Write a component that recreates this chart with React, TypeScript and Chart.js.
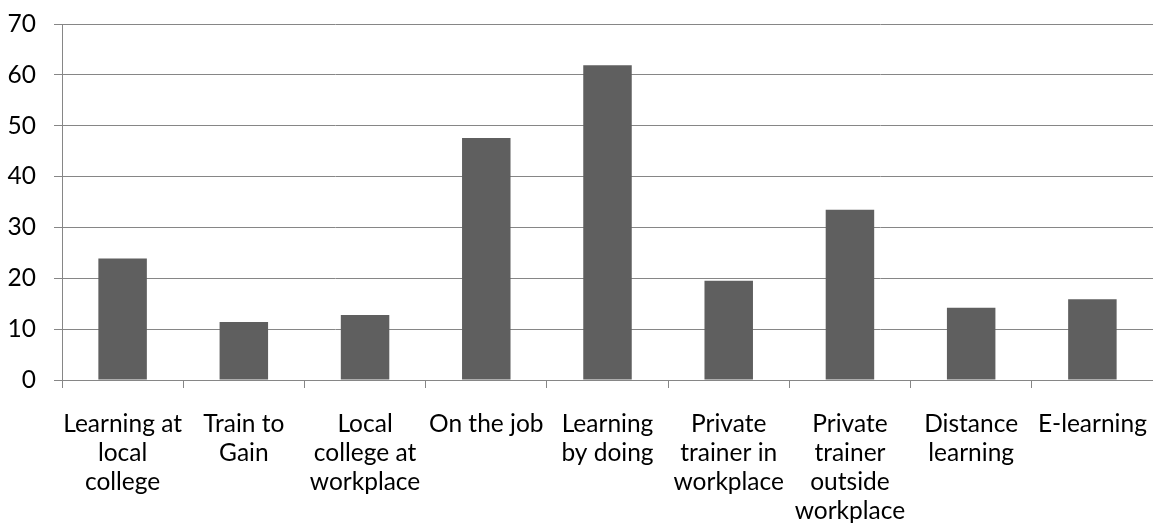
import React, { useEffect, useRef } from "react";
import { Chart, registerables } from "chart.js";

Chart.register(...registerables);

const categories: string[][] = [
  ["Learning at", "local", "college"],
  ["Train to", "Gain"],
  ["Local", "college at", "workplace"],
  ["On the job"],
  ["Learning", "by doing"],
  ["Private", "trainer in", "workplace"],
  ["Private", "trainer", "outside", "workplace"],
  ["Distance", "learning"],
  ["E-learning"],
];

const values: number[] = [23.9, 11.4, 12.8, 47.6, 61.9, 19.5, 33.5, 14.2, 15.9];

const yTicks = { min: 0, max: 70, step: 10 };

export default function App() {
  const ref = useRef<HTMLCanvasElement | null>(null);
  useEffect(() => {
    if (!ref.current) return;
    const font = { family: "Lato", size: 24.5, lineHeight: 29 / 24.5 };
    const chart = new Chart(ref.current, {
      type: "bar",
      data: {
        labels: categories,
        datasets: [
          {
            data: values,
            backgroundColor: "#5f5f5f",
            borderWidth: 0,
            barPercentage: 0.4,
            categoryPercentage: 1,
          },
        ],
      },
      options: {
        animation: false,
        responsive: false,
        maintainAspectRatio: false,
        layout: { padding: { top: 24, right: 0, bottom: 0, left: 0 } },
        plugins: { legend: { display: false }, tooltip: { enabled: false } },
        scales: {
          x: {
            grid: {
              offset: true,
              drawOnChartArea: false,
              drawTicks: true,
              tickLength: 8,
              color: "#868686",
              lineWidth: 1,
            },
            border: { color: "#868686", width: 1 },
            ticks: {
              color: "#000",
              font,
              padding: 22,
              maxRotation: 0,
              autoSkip: false,
            },
            afterFit: (s: any) => {
              s.height = 152;
              s.paddingLeft = 0;
              s.paddingRight = 0;
            },
          },
          y: {
            min: yTicks.min,
            max: yTicks.max,
            grid: { color: "#868686", lineWidth: 1, tickLength: 8 },
            border: { color: "#868686", width: 1 },
            ticks: {
              stepSize: yTicks.step,
              color: "#000",
              font,
              padding: 18,
            },
            afterFit: (s: any) => {
              s.width = 62;
              s.paddingTop = 0;
              s.paddingBottom = 0;
            },
          },
        },
      },
    });
    return () => chart.destroy();
  }, []);
  return (
    <div style={{ position: "absolute", left: 0, top: 0, width: 1153, height: 532, background: "#fff" }}>
      <canvas ref={ref} width={1153} height={532} style={{ width: 1153, height: 532 }} />
    </div>
  );
}
